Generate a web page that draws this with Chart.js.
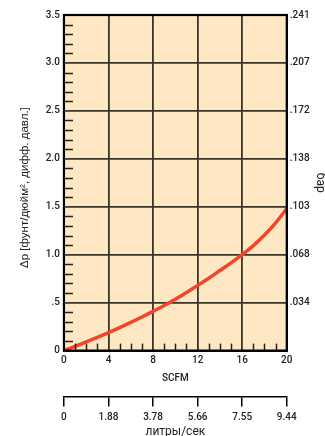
<!DOCTYPE html>
<html>
<head>
<meta charset="utf-8">
<script src="https://cdn.jsdelivr.net/npm/chart.js@4"></script>
<style>
html,body{margin:0;padding:0;background:#fff;}
#wrap{width:325px;height:436px;position:relative;}
</style>
</head>
<body>
<div id="wrap"><canvas id="c" width="325" height="436"></canvas></div>
<script>
// ---- data ----
const scfm = [0,1,2,3,4,5,6,7,8,9,10,11,12,13,14,15,16,17,18,19,20];
const dp   = [0,0.044,0.09,0.138,0.188,0.24,0.294,0.35,0.41,0.471,0.536,0.606,0.68,0.755,0.835,0.915,1.0,1.095,1.205,1.333,1.48];
const yTickLabels   = ['0','.5','1.0','1.5','2.0','2.5','3.0','3.5'];
const barTickLabels = ['','.034','.068','.103','.138','.172','.207','.241'];
const literTickLabels = ['0','1.88','3.78','5.66','7.55','9.44'];

const FONT = {family:'Roboto', size:10, weight:'500'};
const GRID = '#3a342a';

const decor = {
  id:'decor',
  beforeDraw(chart){
    const {ctx, chartArea:a} = chart;
    ctx.save();
    ctx.fillStyle = '#FEE7C3';
    ctx.fillRect(a.left, a.top, a.right-a.left, a.bottom-a.top);
    ctx.restore();
  },
  afterDatasetsDraw(chart){
    const {ctx, chartArea:a, scales} = chart;
    ctx.save();
    ctx.strokeStyle = '#222';
    ctx.lineWidth = 1.5;
    for(let k=1;k<35;k++){
      if(k%5===0) continue;
      const y = Math.round(scales.y.getPixelForValue(k/10))+0.5;
      ctx.beginPath(); ctx.moveTo(a.left, y); ctx.lineTo(a.left+9, y); ctx.stroke();
    }
    for(let k=1;k<20;k++){
      if(k%4===0) continue;
      const x = Math.round(scales.x.getPixelForValue(k))+0.5;
      ctx.beginPath(); ctx.moveTo(x, a.bottom); ctx.lineTo(x, a.bottom-7); ctx.stroke();
    }
    ctx.strokeStyle = '#000';
    ctx.lineWidth = 2.2;
    ctx.strokeRect(a.left, a.top, a.right-a.left, a.bottom-a.top);
    ctx.restore();
  }
};

new Chart(document.getElementById('c'), {
  type:'line',
  data:{
    datasets:[{
      data: scfm.map((x,i)=>({x, y:dp[i]})),
      borderColor:'#F2452B',
      borderWidth:3.5,
      pointRadius:0,
      cubicInterpolationMode:'monotone',
      fill:false,
      clip:false
    }]
  },
  options:{
    responsive:false,
    animation:false,
    devicePixelRatio:1,
    layout:{padding:{top:15,left:18,right:-10,bottom:-3}},
    plugins:{legend:{display:false}, tooltip:{enabled:false}},
    scales:{
      x:{
        type:'linear', position:'bottom', min:0, max:20,
        ticks:{stepSize:4, color:'#222', font:FONT, padding:4, maxRotation:0},
        grid:{color:GRID, lineWidth:1.8, drawTicks:false},
        border:{display:true, color:'#000', width:2},
        title:{display:true, text:'SCFM', color:'#222', font:FONT, padding:{top:2,bottom:12}}
      },
      x2:{
        type:'linear', position:'bottom', min:0, max:20,
        ticks:{stepSize:4, color:'#222', font:FONT, padding:5, maxRotation:0,
               callback:(v,i)=>literTickLabels[i]},
        grid:{drawOnChartArea:false, drawTicks:true, tickLength:10, color:'#000', lineWidth:1.5},
        border:{display:true, color:'#000', width:1.5},
        title:{display:true, text:'литры/сек', color:'#222', font:{family:'Roboto', size:12}, padding:{top:-4,bottom:0}}
      },
      y:{
        type:'linear', position:'left', min:0, max:3.5,
        ticks:{stepSize:0.5, color:'#222', font:FONT, padding:4,
               callback:(v,i)=>yTickLabels[i]},
        grid:{color:GRID, lineWidth:1.8, drawTicks:false},
        border:{display:true, color:'#000', width:2},
        title:{display:true, text:'Δp [фунт/дюйм², дифф. давл.]   ', color:'#222', font:{family:"'Liberation Sans Narrow', 'Liberation Sans'", size:11.5}, padding:{top:0,bottom:10}}
      },
      y2:{
        type:'linear', position:'right', min:0, max:3.5,
        ticks:{stepSize:0.5, color:'#222', font:FONT, padding:3,
               callback:(v,i)=>barTickLabels[i]},
        grid:{drawOnChartArea:false, drawTicks:false},
        border:{display:true, color:'#000', width:2},
        title:{display:true, text:'бар', color:'#222', font:{family:'Roboto', size:12}, padding:{top:8,bottom:0}}
      }
    }
  },
  plugins:[decor]
});
</script>
</body>
</html>
